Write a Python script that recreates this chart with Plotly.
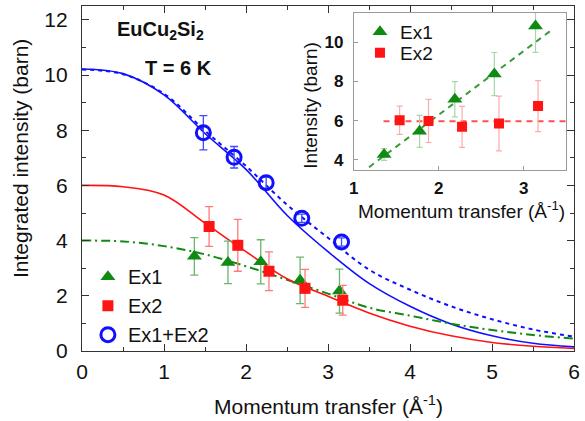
import plotly.graph_objects as go

# ---------------- data ----------------
# main panel: integrated intensity of the two excitations
q_ex1 = [1.37, 1.78, 2.18, 2.66, 3.14]
i_ex1 = [3.43, 3.21, 3.23, 2.56, 2.17]
e_ex1 = [0.68, 0.77, 0.80, 0.84, 0.80]

q_ex2 = [1.55, 1.90, 2.28, 2.72, 3.18]
i_ex2 = [4.51, 3.83, 2.89, 2.27, 1.84]
e_ex2 = [0.72, 0.94, 0.70, 0.69, 0.54]

q_sum = [1.48, 1.855, 2.246, 2.68, 3.165]
i_sum = [7.91, 7.02, 6.10, 4.81, 3.95]
e_sum = [0.62, 0.39, 0.20, 0.15, 0.15]

# form-factor curves sampled along Q
q_curve = [0, 0.5, 1, 1.5, 2, 2.5, 3, 3.5, 4, 4.5, 5, 5.5, 6]
ff_sum_solid = [10.22, 10.05, 9.28, 7.88, 6.58, 4.92, 3.60, 2.45, 1.62, 0.98, 0.55, 0.28, 0.15]
ff_sum_dash = [10.20, 10.03, 9.32, 7.98, 6.70, 5.30, 4.10, 2.95, 2.22, 1.62, 1.15, 0.78, 0.52]
ff_ex2 = [6.00, 5.95, 5.65, 4.63, 3.60, 2.62, 1.98, 1.38, 0.90, 0.55, 0.31, 0.17, 0.09]
ff_ex1 = [4.00, 3.97, 3.80, 3.50, 3.07, 2.58, 2.08, 1.57, 1.28, 0.99, 0.76, 0.58, 0.45]

# inset: intensities normalised per excitation
qi_ex1 = [1.357, 1.775, 2.19, 2.655, 3.14]
ii_ex1 = [4.27, 5.45, 7.09, 8.38, 10.84]
ei_ex1 = [0.30, 0.82, 0.90, 1.10, 1.35]

qi_ex2 = [1.54, 1.88, 2.275, 2.71, 3.17]
ii_ex2 = [6.02, 5.98, 5.68, 5.85, 6.74]
ei_ex2 = [0.72, 1.10, 1.05, 1.40, 1.30]

fit1_q = [1.18, 3.33]
fit1_i = [3.62, 10.63]
fit2_q = [1.35, 3.5]
fit2_i = [5.97, 5.97]

# ---------------- style ----------------
FONT = "Liberation Sans, Arial, sans-serif"
BLUE = "#1010ff"
RED = "#ff1414"
GREEN = "#0f8a12"

fig = go.Figure()

# curves of the main panel
fig.add_trace(go.Scatter(x=q_curve, y=ff_sum_dash, mode="lines", line=dict(color=BLUE, width=2, dash="4px,4px", shape="spline"),
                         showlegend=False, hoverinfo="skip"))
fig.add_trace(go.Scatter(x=q_curve, y=ff_sum_solid, mode="lines", line=dict(color=BLUE, width=1.6, shape="spline"),
                         showlegend=False, hoverinfo="skip"))
fig.add_trace(go.Scatter(x=q_curve, y=ff_ex1, mode="lines", line=dict(color=GREEN, width=2, dash="9px,4px,2px,4px", shape="spline"),
                         showlegend=False, hoverinfo="skip"))
fig.add_trace(go.Scatter(x=q_curve, y=ff_ex2, mode="lines", line=dict(color=RED, width=1.6, shape="spline"),
                         showlegend=False, hoverinfo="skip"))

# data points of the main panel
fig.add_trace(go.Scatter(x=q_ex1, y=i_ex1, mode="markers", name="Ex1",
                         marker=dict(symbol="triangle-up", size=13, color=GREEN),
                         error_y=dict(type="data", array=e_ex1, color="#6cb56c", thickness=1.3, width=4)))
fig.add_trace(go.Scatter(x=q_ex2, y=i_ex2, mode="markers", name="Ex2",
                         marker=dict(symbol="square", size=11, color=RED),
                         error_y=dict(type="data", array=e_ex2, color="#ff7a7a", thickness=1.3, width=4)))
fig.add_trace(go.Scatter(x=q_sum, y=i_sum, mode="markers", name="Ex1+Ex2",
                         marker=dict(symbol="circle-open", size=14, color=BLUE, line=dict(width=3, color=BLUE)),
                         error_y=dict(type="data", array=e_sum, color="#3a4cff", thickness=1.3, width=4)))

# inset
fig.add_trace(go.Scatter(x=fit1_q, y=fit1_i, mode="lines", xaxis="x2", yaxis="y2",
                         line=dict(color="#3a9a3a", width=2, dash="6px,5px"), showlegend=False, hoverinfo="skip"))
fig.add_trace(go.Scatter(x=fit2_q, y=fit2_i, mode="lines", xaxis="x2", yaxis="y2",
                         line=dict(color="#ff5050", width=2, dash="6px,5px"), showlegend=False, hoverinfo="skip"))
fig.add_trace(go.Scatter(x=qi_ex1, y=ii_ex1, mode="markers", name="Ex1", xaxis="x2", yaxis="y2", legend="legend2",
                         marker=dict(symbol="triangle-up", size=13, color=GREEN),
                         error_y=dict(type="data", array=ei_ex1, color="#a8d6a8", thickness=1.2, width=3)))
fig.add_trace(go.Scatter(x=qi_ex2, y=ii_ex2, mode="markers", name="Ex2", xaxis="x2", yaxis="y2", legend="legend3",
                         marker=dict(symbol="square", size=10, color=RED),
                         error_y=dict(type="data", array=ei_ex2, color="#ffaaaa", thickness=1.2, width=3)))

main_axis = dict(showgrid=False, zeroline=False, showline=True, linecolor="#333", linewidth=1.3,
                 mirror="allticks", ticks="inside", ticklen=7, tickwidth=1.3, tickcolor="#333",
                 tickfont=dict(family=FONT, size=21, color="#111"))
inset_axis = dict(showgrid=False, zeroline=False, showline=True, linecolor="#9a9a9a", linewidth=1,
                  mirror=True, ticks="inside", ticklen=4, tickwidth=1, tickcolor="#9a9a9a",
                  tickfont=dict(family=FONT, size=17, color="#111", weight="bold"))

inset_legend = dict(xanchor="left", yanchor="middle", bgcolor="rgba(0,0,0,0)",
                    font=dict(family=FONT, size=19), itemwidth=30)


def note(text, x, y, size, angle=0, bold=False):
    return dict(text=f"<b>{text}</b>" if bold else text, xref="paper", yref="paper", x=x, y=y,
                xanchor="center", yanchor="middle", textangle=angle, showarrow=False,
                font=dict(family=FONT, size=size, color="#111"))


fig.update_layout(
    width=585, height=421,
    margin=dict(l=82, r=7, t=5, b=70),
    paper_bgcolor="white", plot_bgcolor="white",
    font=dict(family=FONT, color="#111"),
    xaxis=dict(main_axis, range=[0, 6], dtick=1, ticklabelstandoff=2,
               minor=dict(dtick=0.5, ticks="inside", ticklen=4, tickcolor="#333", tickwidth=1.3)),
    yaxis=dict(main_axis, range=[0, 12.5], dtick=2, ticklabelstandoff=9,
               minor=dict(dtick=1, ticks="inside", ticklen=4, tickcolor="#333", tickwidth=1.3)),
    xaxis2=dict(inset_axis, domain=[0.5524, 0.9839], anchor="y2", range=[1, 3.5], dtick=1, ticklabelstandoff=3),
    yaxis2=dict(inset_axis, domain=[0.526, 0.9798], anchor="x2", range=[3.5, 11.5],
                tickvals=[4, 6, 8, 10], ticklabelstandoff=6),
    legend=dict(x=0.012, y=0.272, xanchor="left", yanchor="top", bgcolor="rgba(0,0,0,0)",
                font=dict(family=FONT, size=20), tracegroupgap=0, itemwidth=30),
    legend2=dict(inset_legend, x=0.565, y=(351 - 31) / 346),
    legend3=dict(inset_legend, x=0.565, y=(351 - 52) / 346),
    shapes=[dict(type="rect", xref="x2", yref="y2", x0=1, x1=3.5, y0=3.5, y1=11.5,
                 fillcolor="white", line=dict(width=0), layer="below")],
    annotations=[
        note("EuCu<sub>2</sub>Si<sub>2</sub>", 0.159, 0.928, 20, bold=True),
        note("T = 6 K", 0.196, 0.821, 20, bold=True),
        note("Integrated intensity (barn)", -0.125, 0.558, 21, angle=-90),
        note("Momentum transfer (Å<sup>-1</sup>)", 0.5, -0.156, 21),
        note("Intensity (barn)", 0.4657, 0.711, 19, angle=-90),
        note("Momentum transfer (Å<sup>-1</sup>)", 0.772, 0.4075, 19),
    ],
)

fig.write_html("out.html")
